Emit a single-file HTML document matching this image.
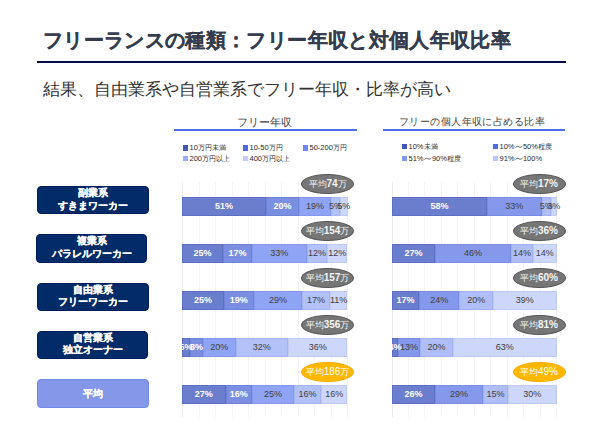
<!DOCTYPE html>
<html><head><meta charset="utf-8">
<style>
*{margin:0;padding:0;box-sizing:border-box}
html,body{width:600px;height:427px;overflow:hidden;background:#fff;font-family:"Liberation Sans",sans-serif}
.abs{position:absolute;white-space:nowrap}
#title{left:43px;top:27.6px;font-size:20px;letter-spacing:0.35px;font-weight:bold;color:#353c4e;line-height:24px;-webkit-text-stroke:0.2px #353c4e}
#rule{left:37px;top:60.5px;width:529px;height:2.5px;background:#060b4e}
#sub{left:43px;top:79px;font-size:17px;color:#333;line-height:22px}
.ct{position:absolute;font-size:11px;color:#404040;line-height:12px;white-space:nowrap;text-align:center}
.cl{position:absolute;height:1.6px;background:#4e6de6}
.lg{position:absolute;font-size:7.5px;color:#2a2a2a;line-height:9px;white-space:nowrap}
.lg i{font-style:normal;font-size:7.1px}
.wv{display:inline-block;vertical-align:top;margin:0 0.2px}
.sq{position:absolute;width:5px;height:5.3px}
.box{position:absolute;left:37px;width:112px;height:28.5px;border-radius:4px;background:#032b67;border:1px solid #011c5a;color:#fff;font-weight:bold;font-size:10px;line-height:10.5px;text-align:center;padding-top:2.5px;-webkit-text-stroke:0.18px #fff}
.box div:first-child{margin-top:-1.2px;margin-bottom:1.9px}
.box.avg{background:#8497e8;border-color:#7088e6;padding-top:8.5px}
.box.avg div:first-child{margin:0}
.gl{position:absolute;top:182px;width:1px;height:235px;background:#f3f3f5}
.gl.ax{background:#e9e9ee}
.seg{position:absolute;height:18.5px;border:0.6px solid}
.lbl{position:absolute;width:60px;height:18.5px;line-height:18.5px;text-align:center;font-size:9px;color:#404040}
.lbl.w{color:#fff;font-weight:bold}
.clip{position:absolute;top:0;height:427px;overflow:hidden}
.ov{position:absolute;width:53px;height:20.4px;border-radius:50%;background:#767676;border:1px solid #575757;text-align:center;line-height:18.4px;color:#f4f4f4;font-size:8.5px;white-space:nowrap}
.ov b{font-size:10px}
.ov.org{background:#ffb700;border-color:#f9ad00;color:#fff}
.ov.org b{font-weight:normal}
</style></head><body>
<div class="abs" id="title">フリーランスの種類：フリー年収と対個人年収比率</div>
<div class="abs" id="rule"></div>
<div class="abs" id="sub">結果、自由業系や自営業系でフリー年収・比率が高い</div>

<div class="ct" style="left:172.5px;width:183px;top:116px">フリー年収</div>
<div class="cl" style="left:174px;width:183px;top:129.2px"></div>
<div class="ct" style="left:381px;width:182px;top:116px;font-size:10.3px;letter-spacing:0.45px">フリーの個人年収に占める比率</div>
<div class="cl" style="left:383px;width:182px;top:129.2px"></div>

<div class="sq" style="left:183px;top:145.3px;background:#4258b0"></div><div class="lg" style="left:189.5px;top:142.5px">10<i>万円未満</i></div>
<div class="sq" style="left:243.3px;top:145.3px;background:#4d68dc"></div><div class="lg" style="left:249.5px;top:142.5px">10-50<i>万円</i></div>
<div class="sq" style="left:303px;top:145.3px;background:#6d8af4"></div><div class="lg" style="left:309.5px;top:142.5px">50-200<i>万円</i></div>
<div class="sq" style="left:183px;top:156.2px;background:#9aaef7"></div><div class="lg" style="left:189.5px;top:154px">200<i>万円以上</i></div>
<div class="sq" style="left:243.3px;top:156.2px;background:#c4cff9"></div><div class="lg" style="left:249.5px;top:154px">400<i>万円以上</i></div>

<div class="sq" style="left:402px;top:144px;background:#4258b8"></div><div class="lg" style="left:408.5px;top:141.5px">10%<i>未満</i></div>
<div class="sq" style="left:493px;top:144px;background:#4f6ce6"></div><div class="lg" style="left:499.5px;top:141.5px">10%<svg class="wv" width="8" height="9" viewBox="0 0 8 9"><path d="M0.6 5.6 C1.6 4.2 2.6 3.9 3.8 4.7 C5 5.5 6 5.4 7.4 4" stroke="#2a2a2a" fill="none" stroke-width="0.75"/></svg>50%<i>程度</i></div>
<div class="sq" style="left:402px;top:155.8px;background:#7f98f4"></div><div class="lg" style="left:408.5px;top:153.5px">51%<svg class="wv" width="8" height="9" viewBox="0 0 8 9"><path d="M0.6 5.6 C1.6 4.2 2.6 3.9 3.8 4.7 C5 5.5 6 5.4 7.4 4" stroke="#2a2a2a" fill="none" stroke-width="0.75"/></svg>90%<i>程度</i></div>
<div class="sq" style="left:493px;top:155.8px;background:#bdc9f8"></div><div class="lg" style="left:499.5px;top:153.5px">91%<svg class="wv" width="8" height="9" viewBox="0 0 8 9"><path d="M0.6 5.6 C1.6 4.2 2.6 3.9 3.8 4.7 C5 5.5 6 5.4 7.4 4" stroke="#2a2a2a" fill="none" stroke-width="0.75"/></svg>100%</div>

<div class="box" style="left:37px;top:185.8px;width:111.7px"><div>副業系</div><div>すきまワーカー</div></div>
<div class="box" style="left:36.1px;top:234.1px;width:111.2px"><div>複業系</div><div>パラレルワーカー</div></div>
<div class="box" style="left:37.1px;top:282.7px;width:111.6px"><div>自由業系</div><div>フリーワーカー</div></div>
<div class="box" style="left:37px;top:330.6px;width:111.3px"><div>自営業系</div><div>独立オーナー</div></div>
<div class="box avg" style="left:37px;top:379.1px;width:111.5px"><div>平均</div></div>

<div class="gl ax" style="left:182.00px"></div>
<div class="gl" style="left:198.50px"></div>
<div class="gl" style="left:215.00px"></div>
<div class="gl" style="left:231.50px"></div>
<div class="gl" style="left:248.00px"></div>
<div class="gl" style="left:264.50px"></div>
<div class="gl" style="left:281.00px"></div>
<div class="gl" style="left:297.50px"></div>
<div class="gl" style="left:314.00px"></div>
<div class="gl" style="left:330.50px"></div>
<div class="gl" style="left:347.00px"></div>
<div class="gl ax" style="left:391.50px"></div>
<div class="gl" style="left:407.95px"></div>
<div class="gl" style="left:424.40px"></div>
<div class="gl" style="left:440.85px"></div>
<div class="gl" style="left:457.30px"></div>
<div class="gl" style="left:473.75px"></div>
<div class="gl" style="left:490.20px"></div>
<div class="gl" style="left:506.65px"></div>
<div class="gl" style="left:523.10px"></div>
<div class="gl" style="left:539.55px"></div>
<div class="gl" style="left:556.00px"></div>
<div class="clip" style="left:182px;width:200px">
<div style="position:absolute;left:-182px;top:0">
<div class="seg" style="left:182.00px;top:197px;width:84.00px;background:#6b7dcd;border-color:#5c6fc4"></div>
<div class="seg" style="left:266.00px;top:197px;width:33.20px;background:#7b8fe2;border-color:#6d82d9"></div>
<div class="seg" style="left:299.20px;top:197px;width:31.80px;background:#90a4f6;border-color:#8398ee"></div>
<div class="seg" style="left:331.00px;top:197px;width:9.00px;background:#b3c1f9;border-color:#a5b4f2"></div>
<div class="seg" style="left:340.00px;top:197px;width:7.50px;background:#cdd7fc;border-color:#c0cbf5"></div>
<div class="seg" style="left:182.00px;top:244px;width:41.20px;background:#6b7dcd;border-color:#5c6fc4"></div>
<div class="seg" style="left:223.20px;top:244px;width:28.50px;background:#7b8fe2;border-color:#6d82d9"></div>
<div class="seg" style="left:251.70px;top:244px;width:55.30px;background:#90a4f6;border-color:#8398ee"></div>
<div class="seg" style="left:307.00px;top:244px;width:19.80px;background:#b3c1f9;border-color:#a5b4f2"></div>
<div class="seg" style="left:326.80px;top:244px;width:20.70px;background:#cdd7fc;border-color:#c0cbf5"></div>
<div class="seg" style="left:182.00px;top:291px;width:41.80px;background:#6b7dcd;border-color:#5c6fc4"></div>
<div class="seg" style="left:223.80px;top:291px;width:30.00px;background:#7b8fe2;border-color:#6d82d9"></div>
<div class="seg" style="left:253.80px;top:291px;width:48.40px;background:#90a4f6;border-color:#8398ee"></div>
<div class="seg" style="left:302.20px;top:291px;width:27.60px;background:#b3c1f9;border-color:#a5b4f2"></div>
<div class="seg" style="left:329.80px;top:291px;width:17.70px;background:#cdd7fc;border-color:#c0cbf5"></div>
<div class="seg" style="left:182.00px;top:338px;width:8.00px;background:#6b7dcd;border-color:#5c6fc4"></div>
<div class="seg" style="left:190.00px;top:338px;width:12.80px;background:#7b8fe2;border-color:#6d82d9"></div>
<div class="seg" style="left:202.80px;top:338px;width:33.00px;background:#90a4f6;border-color:#8398ee"></div>
<div class="seg" style="left:235.80px;top:338px;width:52.00px;background:#b3c1f9;border-color:#a5b4f2"></div>
<div class="seg" style="left:287.80px;top:338px;width:59.70px;background:#cdd7fc;border-color:#c0cbf5"></div>
<div class="seg" style="left:182.00px;top:385px;width:43.70px;background:#6b7dcd;border-color:#5c6fc4"></div>
<div class="seg" style="left:225.70px;top:385px;width:26.30px;background:#7b8fe2;border-color:#6d82d9"></div>
<div class="seg" style="left:252.00px;top:385px;width:42.00px;background:#90a4f6;border-color:#8398ee"></div>
<div class="seg" style="left:294.00px;top:385px;width:27.20px;background:#b3c1f9;border-color:#a5b4f2"></div>
<div class="seg" style="left:321.20px;top:385px;width:26.30px;background:#cdd7fc;border-color:#c0cbf5"></div>
<div class="lbl w" style="left:194.00px;top:197px">51%</div>
<div class="lbl w" style="left:252.60px;top:197px">20%</div>
<div class="lbl" style="left:285.10px;top:197px">19%</div>
<div class="lbl" style="left:305.50px;top:197px">5%</div>
<div class="lbl" style="left:313.75px;top:197px">5%</div>
<div class="lbl w" style="left:172.60px;top:244px">25%</div>
<div class="lbl w" style="left:207.45px;top:244px">17%</div>
<div class="lbl" style="left:249.35px;top:244px">33%</div>
<div class="lbl" style="left:286.90px;top:244px">12%</div>
<div class="lbl" style="left:307.15px;top:244px">12%</div>
<div class="lbl w" style="left:172.90px;top:291px">25%</div>
<div class="lbl w" style="left:208.80px;top:291px">19%</div>
<div class="lbl" style="left:248.00px;top:291px">29%</div>
<div class="lbl" style="left:286.00px;top:291px">17%</div>
<div class="lbl" style="left:308.65px;top:291px">11%</div>
<div class="lbl w" style="left:156.00px;top:338px">5%</div>
<div class="lbl w" style="left:166.40px;top:338px">8%</div>
<div class="lbl" style="left:189.30px;top:338px">20%</div>
<div class="lbl" style="left:231.80px;top:338px">32%</div>
<div class="lbl" style="left:287.65px;top:338px">36%</div>
<div class="lbl w" style="left:173.85px;top:385px">27%</div>
<div class="lbl w" style="left:208.85px;top:385px">16%</div>
<div class="lbl" style="left:243.00px;top:385px">25%</div>
<div class="lbl" style="left:277.60px;top:385px">16%</div>
<div class="lbl" style="left:304.35px;top:385px">16%</div>
</div></div>
<div class="clip" style="left:392px;width:208px">
<div style="position:absolute;left:-392px;top:0">
<div class="seg" style="left:392.00px;top:197px;width:95.00px;background:#6b7dcd;border-color:#5c6fc4"></div>
<div class="seg" style="left:487.00px;top:197px;width:54.70px;background:#8598ec;border-color:#788ce2"></div>
<div class="seg" style="left:541.70px;top:197px;width:9.30px;background:#b0bef8;border-color:#a1b1f2"></div>
<div class="seg" style="left:551.00px;top:197px;width:5.50px;background:#cdd7fc;border-color:#c0cbf5"></div>
<div class="seg" style="left:392.00px;top:244px;width:43.00px;background:#6b7dcd;border-color:#5c6fc4"></div>
<div class="seg" style="left:435.00px;top:244px;width:76.00px;background:#8598ec;border-color:#788ce2"></div>
<div class="seg" style="left:511.00px;top:244px;width:22.00px;background:#b0bef8;border-color:#a1b1f2"></div>
<div class="seg" style="left:533.00px;top:244px;width:23.50px;background:#cdd7fc;border-color:#c0cbf5"></div>
<div class="seg" style="left:392.00px;top:291px;width:27.20px;background:#6b7dcd;border-color:#5c6fc4"></div>
<div class="seg" style="left:419.20px;top:291px;width:40.10px;background:#8598ec;border-color:#788ce2"></div>
<div class="seg" style="left:459.30px;top:291px;width:33.70px;background:#b0bef8;border-color:#a1b1f2"></div>
<div class="seg" style="left:493.00px;top:291px;width:63.50px;background:#cdd7fc;border-color:#c0cbf5"></div>
<div class="seg" style="left:392.00px;top:338px;width:6.00px;background:#6b7dcd;border-color:#5c6fc4"></div>
<div class="seg" style="left:398.00px;top:338px;width:22.00px;background:#8598ec;border-color:#788ce2"></div>
<div class="seg" style="left:420.00px;top:338px;width:33.00px;background:#b0bef8;border-color:#a1b1f2"></div>
<div class="seg" style="left:453.00px;top:338px;width:103.50px;background:#cdd7fc;border-color:#c0cbf5"></div>
<div class="seg" style="left:392.00px;top:385px;width:43.00px;background:#6b7dcd;border-color:#5c6fc4"></div>
<div class="seg" style="left:435.00px;top:385px;width:47.80px;background:#8598ec;border-color:#788ce2"></div>
<div class="seg" style="left:482.80px;top:385px;width:25.20px;background:#b0bef8;border-color:#a1b1f2"></div>
<div class="seg" style="left:508.00px;top:385px;width:48.50px;background:#cdd7fc;border-color:#c0cbf5"></div>
<div class="lbl w" style="left:409.50px;top:197px">58%</div>
<div class="lbl" style="left:484.35px;top:197px">33%</div>
<div class="lbl" style="left:516.35px;top:197px">5%</div>
<div class="lbl" style="left:523.75px;top:197px">3%</div>
<div class="lbl w" style="left:383.50px;top:244px">27%</div>
<div class="lbl" style="left:443.00px;top:244px">46%</div>
<div class="lbl" style="left:492.00px;top:244px">14%</div>
<div class="lbl" style="left:514.75px;top:244px">14%</div>
<div class="lbl w" style="left:375.60px;top:291px">17%</div>
<div class="lbl" style="left:409.25px;top:291px">24%</div>
<div class="lbl" style="left:446.15px;top:291px">20%</div>
<div class="lbl" style="left:494.75px;top:291px">39%</div>
<div class="lbl w" style="left:365.00px;top:338px">4%</div>
<div class="lbl" style="left:379.00px;top:338px">13%</div>
<div class="lbl" style="left:406.50px;top:338px">20%</div>
<div class="lbl" style="left:474.75px;top:338px">63%</div>
<div class="lbl w" style="left:383.50px;top:385px">26%</div>
<div class="lbl" style="left:428.90px;top:385px">29%</div>
<div class="lbl" style="left:465.40px;top:385px">15%</div>
<div class="lbl" style="left:502.25px;top:385px">30%</div>
</div></div>
<div class="ov" style="left:301.10px;top:173.60px">平均<b>74</b>万</div>
<div class="ov" style="left:301.10px;top:220.60px">平均<b>154</b>万</div>
<div class="ov" style="left:301.10px;top:267.60px">平均<b>157</b>万</div>
<div class="ov" style="left:301.10px;top:314.60px">平均<b>356</b>万</div>
<div class="ov org" style="left:301.10px;top:361.60px">平均<b>186</b>万</div>
<div class="ov" style="left:512.50px;top:173.60px">平均<b>17%</b></div>
<div class="ov" style="left:512.50px;top:220.60px">平均<b>36%</b></div>
<div class="ov" style="left:512.50px;top:267.60px">平均<b>60%</b></div>
<div class="ov" style="left:512.50px;top:314.60px">平均<b>81%</b></div>
<div class="ov org" style="left:512.50px;top:361.60px">平均<b>49%</b></div>
</body></html>
